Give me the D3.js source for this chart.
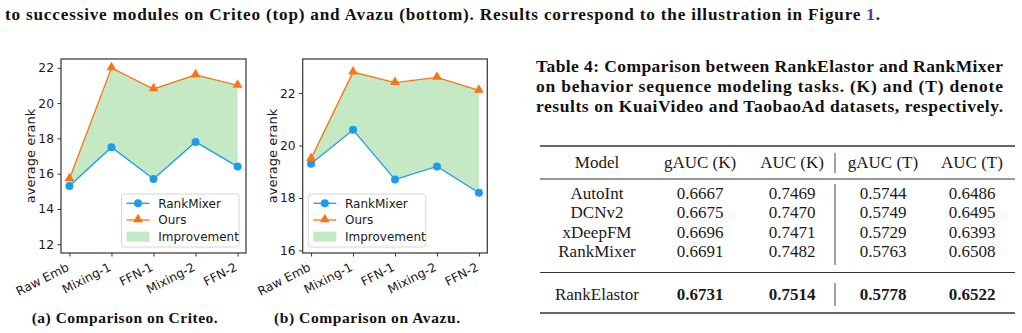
<!DOCTYPE html>
<html>
<head>
<meta charset="utf-8">
<script src="https://cdn.jsdelivr.net/npm/d3@7"></script>
<style>
  html, body { margin: 0; padding: 0; background: #fff; }
  svg { display: block; }
</style>
</head>
<body>
<div id="vis"></div>
<script>
// ---- data ----
const stages = ["Raw Emb", "Mixing-1", "FFN-1", "Mixing-2", "FFN-2"];
const criteoRankMixer = [15.3, 17.5, 15.7, 17.8, 16.4];
const criteoOurs = [15.7, 22.0, 20.8, 21.6, 21.0];
const avazuRankMixer = [19.3, 20.6, 18.7, 19.2, 18.2];
const avazuOurs = [19.5, 22.8, 22.4, 22.6, 22.1];
const criteoTicks = [12, 14, 16, 18, 20, 22];
const avazuTicks = [16, 18, 20, 22];
const legendLabels = ["RankMixer", "Ours", "Improvement"];

const tableCols = ["Model", "gAUC (K)", "AUC (K)", "gAUC (T)", "AUC (T)"];
const tableModels = ["AutoInt", "DCNv2", "xDeepFM", "RankMixer", "RankElastor"];
const gaucK = [0.6667, 0.6675, 0.6696, 0.6691, 0.6731];
const aucK = [0.7469, 0.7470, 0.7471, 0.7482, 0.7514];
const gaucT = [0.5744, 0.5749, 0.5729, 0.5763, 0.5778];
const aucT = [0.6486, 0.6495, 0.6393, 0.6508, 0.6522];

const W = 1022, H = 333;
const blue = "#1a9cf0", orange = "#fb7414", green = "#c4e9c4", ink = "#1a1a1a";
const sans = "DejaVu Sans", serif = "Liberation Serif";

var svg = d3.select("#vis").append("svg")
  .attr("width", W)
  .attr("height", H);

function drawPanel(cfg) {
  var x = d3.scaleLinear().domain([-0.2, 4.2]).range([cfg.left, cfg.right]);
  var y = d3.scaleLinear().domain(cfg.yDomain).range([cfg.bottom, cfg.top]);
  var g = svg.append("g").attr("class", "panel");

  // improvement band
  var area = d3.area()
    .x(function(d, i) { return x(i); })
    .y0(function(d, i) { return y(cfg.base[i]); })
    .y1(function(d) { return y(d); });
  g.append("path").datum(cfg.ours)
    .attr("d", area)
    .attr("fill", green);

  var line = d3.line().x(function(d, i) { return x(i); }).y(function(d) { return y(d); });
  g.append("path").datum(cfg.base)
    .attr("d", line).attr("fill", "none").attr("stroke", blue).attr("stroke-width", 1.3);
  g.append("path").datum(cfg.ours)
    .attr("d", line).attr("fill", "none").attr("stroke", orange).attr("stroke-width", 1.3);

  g.selectAll("circle.rm").data(cfg.base).enter().append("circle")
    .attr("class", "rm")
    .attr("cx", function(d, i) { return x(i); })
    .attr("cy", function(d) { return y(d); })
    .attr("r", 4)
    .attr("fill", blue);
  var tri = d3.symbol().type(d3.symbolTriangle).size(42);
  g.selectAll("path.ours").data(cfg.ours).enter().append("path")
    .attr("class", "ours")
    .attr("d", tri)
    .attr("transform", function(d, i) { return "translate(" + x(i) + "," + (y(d) - 0.5) + ")"; })
    .attr("fill", orange);

  // axes
  var yAxis = d3.axisLeft(y).tickValues(cfg.ticks).tickSize(3.5).tickPadding(3.5);
  var xAxis = d3.axisBottom(x).tickValues(d3.range(stages.length)).tickSize(3.5)
    .tickFormat(function(i) { return stages[i]; });

  var ya = g.append("g").attr("transform", "translate(" + cfg.left + ",0)").call(yAxis);
  ya.select(".domain").remove();
  ya.selectAll("line").attr("stroke", "#333");
  ya.selectAll("text").attr("font-family", sans).attr("font-size", 12.3).attr("fill", ink);

  var xa = g.append("g").attr("transform", "translate(0," + cfg.bottom + ")").call(xAxis);
  xa.select(".domain").remove();
  xa.selectAll("line").attr("stroke", "#333");
  xa.selectAll("text")
    .attr("font-family", sans).attr("font-size", 12.3).attr("fill", ink)
    .attr("text-anchor", "end")
    .attr("dy", null)
    .attr("y", 0)
    .attr("transform", "translate(0,17) rotate(-27)");

  // frame
  g.append("rect")
    .attr("x", cfg.left).attr("y", cfg.top)
    .attr("width", cfg.right - cfg.left).attr("height", cfg.bottom - cfg.top)
    .attr("fill", "none").attr("stroke", "#333").attr("stroke-width", 1.2);

  // y label
  g.append("text")
    .attr("transform", "translate(" + (cfg.left - 26) + "," + ((cfg.top + cfg.bottom) / 2) + ") rotate(-90)")
    .attr("text-anchor", "middle")
    .attr("font-family", sans).attr("font-size", 13).attr("fill", ink)
    .text("average erank");

  // legend
  var lw = 117.5, lh = 53;
  var lx = cfg.legendRight ? cfg.right - 7 - lw : cfg.left + 5.6;
  var ly = cfg.bottom - 6 - lh;
  var lg = g.append("g").attr("transform", "translate(" + lx + "," + ly + ")");
  lg.append("rect").attr("width", lw).attr("height", lh).attr("rx", 3)
    .attr("fill", "#fff").attr("fill-opacity", 0.85)
    .attr("stroke", "#d6d6d6").attr("stroke-width", 1);
  var rows = [9.3, 26, 42.7];
  lg.append("line").attr("x1", 5).attr("x2", 28).attr("y1", rows[0]).attr("y2", rows[0])
    .attr("stroke", blue).attr("stroke-width", 1.3);
  lg.append("circle").attr("cx", 16.5).attr("cy", rows[0]).attr("r", 4).attr("fill", blue);
  lg.append("line").attr("x1", 5).attr("x2", 28).attr("y1", rows[1]).attr("y2", rows[1])
    .attr("stroke", orange).attr("stroke-width", 1.3);
  lg.append("path").attr("d", tri).attr("transform", "translate(16.5," + (rows[1] - 0.5) + ")").attr("fill", orange);
  lg.append("rect").attr("x", 5).attr("y", rows[2] - 5).attr("width", 23).attr("height", 10).attr("fill", green);
  lg.selectAll("text").data(legendLabels).enter().append("text")
    .attr("x", 36.7)
    .attr("y", function(d, i) { return rows[i] + 4.4; })
    .attr("font-family", sans).attr("font-size", 12).attr("fill", ink)
    .text(function(d) { return d; });
}

drawPanel({left: 61, right: 246, top: 59, bottom: 253, yDomain: [11.5, 22.5],
  ticks: criteoTicks, base: criteoRankMixer, ours: criteoOurs, legendRight: true});
drawPanel({left: 302.7, right: 487.3, top: 59, bottom: 253, yDomain: [15.9, 23.3],
  ticks: avazuTicks, base: avazuRankMixer, ours: avazuOurs, legendRight: false});

// ---- captions ----
function boldLine(x, y, size, width, str) {
  return svg.append("text")
    .attr("x", x).attr("y", y)
    .attr("font-family", serif).attr("font-weight", "bold").attr("font-size", size)
    .attr("fill", "#111")
    .attr("textLength", width).attr("lengthAdjust", "spacing")
    .text(str);
}

var top2 = svg.append("text")
  .attr("x", 5).attr("y", 20)
  .attr("font-family", serif).attr("font-weight", "bold").attr("font-size", 17.2)
  .attr("fill", "#111")
  .attr("textLength", 875).attr("lengthAdjust", "spacing");
top2.append("tspan").text("to successive modules on Criteo (top) and Avazu (bottom). Results correspond to the illustration in Figure ");
top2.append("tspan").attr("fill", "#7b2a8c").text("1");
top2.append("tspan").text(".");

boldLine(31.7, 323, 15.5, 186, "(a) Comparison on Criteo.");
boldLine(274, 323, 15.5, 186, "(b) Comparison on Avazu.");

boldLine(536, 72, 17.5, 467, "Table 4: Comparison between RankElastor and RankMixer");
boldLine(536, 92, 17.5, 467, "on behavior sequence modeling tasks. (K) and (T) denote");
boldLine(536, 112, 17.5, 467, "results on KuaiVideo and TaobaoAd datasets, respectively.");

// ---- table ----
var colX = [597, 700, 792, 883, 972];
var sepX = 835;
var ruleL = 540, ruleR = 1015;
var rowY = [198.5, 218, 237.5, 257, 299.5];
var fmt = d3.format(".4f");
var tg = svg.append("g").attr("font-family", serif).attr("font-size", 17).attr("fill", "#1a1a1a");

function rule(yv, w) {
  tg.append("line").attr("x1", ruleL).attr("x2", ruleR).attr("y1", yv).attr("y2", yv)
    .attr("stroke", "#333").attr("stroke-width", w);
}
rule(146, 1.4); rule(179, 1); rule(272.5, 1); rule(313, 1.4);

function vsep(y1, y2) {
  tg.append("line").attr("x1", sepX).attr("x2", sepX).attr("y1", y1).attr("y2", y2)
    .attr("stroke", "#444").attr("stroke-width", 1);
}
vsep(153, 173); vsep(184, 265); vsep(283, 306);

tg.selectAll("text.hd").data(tableCols).enter().append("text")
  .attr("class", "hd")
  .attr("x", function(d, i) { return colX[i]; })
  .attr("y", 168)
  .attr("text-anchor", "middle")
  .text(function(d) { return d; });

var columns = [gaucK, aucK, gaucT, aucT];
tableModels.forEach(function(m, r) {
  var last = r === tableModels.length - 1;
  tg.append("text").attr("x", colX[0]).attr("y", rowY[r]).attr("text-anchor", "middle").text(m);
  columns.forEach(function(col, c) {
    tg.append("text")
      .attr("x", colX[c + 1]).attr("y", rowY[r])
      .attr("text-anchor", "middle")
      .attr("font-weight", last ? "bold" : null)
      .text(fmt(col[r]));
  });
});
</script>
</body>
</html>
